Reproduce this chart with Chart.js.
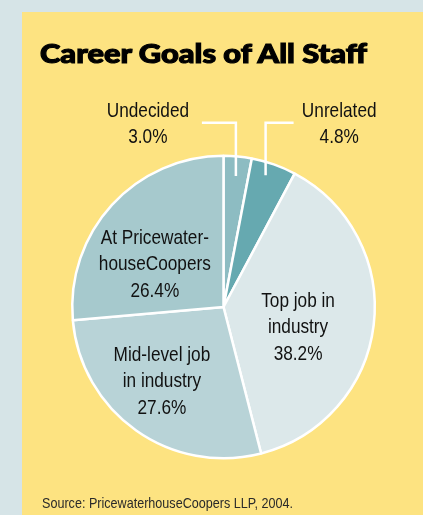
<!DOCTYPE html>
<html>
<head>
<meta charset="utf-8">
<script src="https://cdn.jsdelivr.net/npm/chart.js@4"></script>
<style>
  html, body { margin: 0; padding: 0; }
  body { width: 423px; height: 515px; background: #d6e4e7; position: relative; overflow: hidden; }
  #panel { position: absolute; left: 22px; top: 12px; width: 401px; height: 503px; background: #fde381; }
  #wrap { position: absolute; left: 0; top: 0; width: 423px; height: 515px; }
  #title { position: absolute; left: 40px; top: 40px; font-family: Lato, Roboto, "DejaVu Sans", sans-serif;
           font-weight: 900; font-size: 26px; line-height: 26px; color: #000; white-space: nowrap; transform-origin: 0 0;
           -webkit-text-stroke: 1.1px #000; }
  #source { position: absolute; left: 42px; top: 495px; font-family: "Liberation Sans Narrow", "Arial Narrow", "Liberation Sans", sans-serif;
            font-size: 15px; line-height: 15px; color: #2a2a2a; white-space: nowrap; transform-origin: 0 0; }
</style>
</head>
<body>
<div id="panel"></div>
<div id="wrap"><canvas id="c" width="423" height="515"></canvas></div>
<div id="title">Career Goals of All Staff</div>
<div id="source">Source: PricewaterhouseCoopers LLP, 2004.</div>
<script>
// ---- data ----
const categories = ["Undecided", "Unrelated", "Top job in industry", "Mid-level job in industry", "At PricewaterhouseCoopers"];
const labelLines = [["Undecided"], ["Unrelated"], ["Top job in", "industry"], ["Mid-level job", "in industry"], ["At Pricewater-", "houseCoopers"]];
const shares = [3.0, 4.8, 38.2, 27.6, 26.4];
const sliceColors = ["#8dbcc2", "#66a9b0", "#dce8ea", "#b8d3d7", "#a6c9cd"];

// ---- layout (relative to pie centre, in radius units) ----
const labelAnchors = [
  { dx: -0.50, dy: -1.219 },
  { dx: 0.765, dy: -1.219 },
  { dx: 0.493, dy: 0.126 },
  { dx: -0.407, dy: 0.483 },
  { dx: -0.454, dy: -0.291 }
];
// callouts: index, fraction along slice angle, radius fraction, horizontal arm length (signed)
const callouts = [
  { i: 0, t: 0.5, f: 0.87, arm: -34 },
  { i: 1, t: 0.4, f: 0.915, arm: 28 }
];

function narrowFont(size) {
  return size + 'px "Liberation Sans Narrow", "Arial Narrow", sans-serif';
}

// detect narrow font availability
const mctx = document.createElement('canvas').getContext('2d');
mctx.font = '20px "Liberation Sans Narrow", monospace';
const wNarrow = mctx.measureText('At Pricewater-').width;
mctx.font = '20px monospace';
const wMono = mctx.measureText('At Pricewater-').width;
const hasNarrow = Math.abs(wNarrow - wMono) > 0.5;

const labelPlugin = {
  id: 'pieLabels',
  afterDatasetsDraw(chart) {
    const ctx = chart.ctx;
    const meta = chart.getDatasetMeta(0);
    const arc0 = meta.data[0];
    const cx = arc0.x, cy = arc0.y, r = arc0.outerRadius;
    const fs = 21, lh = 26.5;
    ctx.save();
    // callout lines
    ctx.strokeStyle = '#ffffff';
    ctx.lineWidth = 2.5;
    ctx.lineCap = 'butt';
    callouts.forEach(c => {
      const a = meta.data[c.i];
      const ang = a.startAngle + c.t * (a.endAngle - a.startAngle);
      const px = cx + Math.cos(ang) * r * c.f;
      const py = cy + Math.sin(ang) * r * c.f;
      const elbowY = cy + labelAnchors[c.i].dy * r;
      ctx.beginPath();
      ctx.moveTo(px, py);
      ctx.lineTo(px, elbowY);
      ctx.lineTo(px + c.arm, elbowY);
      ctx.stroke();
    });
    // labels
    ctx.fillStyle = '#111111';
    ctx.textAlign = 'center';
    ctx.textBaseline = 'alphabetic';
    ctx.font = narrowFont(fs);
    labelLines.forEach((lines, i) => {
      const all = lines.concat([shares[i].toFixed(1) + '%']);
      const ax = cx + labelAnchors[i].dx * r;
      const ay = cy + labelAnchors[i].dy * r;
      const n = all.length;
      all.forEach((t, k) => {
        const by = ay + (k - (n - 1) / 2) * lh + 20 * 0.36;
        ctx.save();
        ctx.translate(ax, by);
        if (!hasNarrow) ctx.scale(0.82, 1);
        ctx.fillText(t, 0, 0);
        ctx.restore();
      });
    });
    ctx.restore();
  }
};

new Chart(document.getElementById('c'), {
  type: 'pie',
  data: {
    labels: categories,
    datasets: [{
      data: shares,
      backgroundColor: sliceColors,
      borderColor: '#ffffff',
      borderWidth: 2.5
    }]
  },
  options: {
    responsive: false,
    animation: false,
    layout: { padding: { left: 71, right: 47, top: 154.5, bottom: 55.5 } },
    plugins: { legend: { display: false }, tooltip: { enabled: false }, title: { display: false } }
  },
  plugins: [labelPlugin]
});

// fit title and source widths
function fit(id, target) {
  const el = document.getElementById(id);
  const w = el.getBoundingClientRect().width;
  if (w > 0) el.style.transform = 'scaleX(' + (target / w) + ')';
}
fit('title', 327);
fit('source', 251);
</script>
</body>
</html>
